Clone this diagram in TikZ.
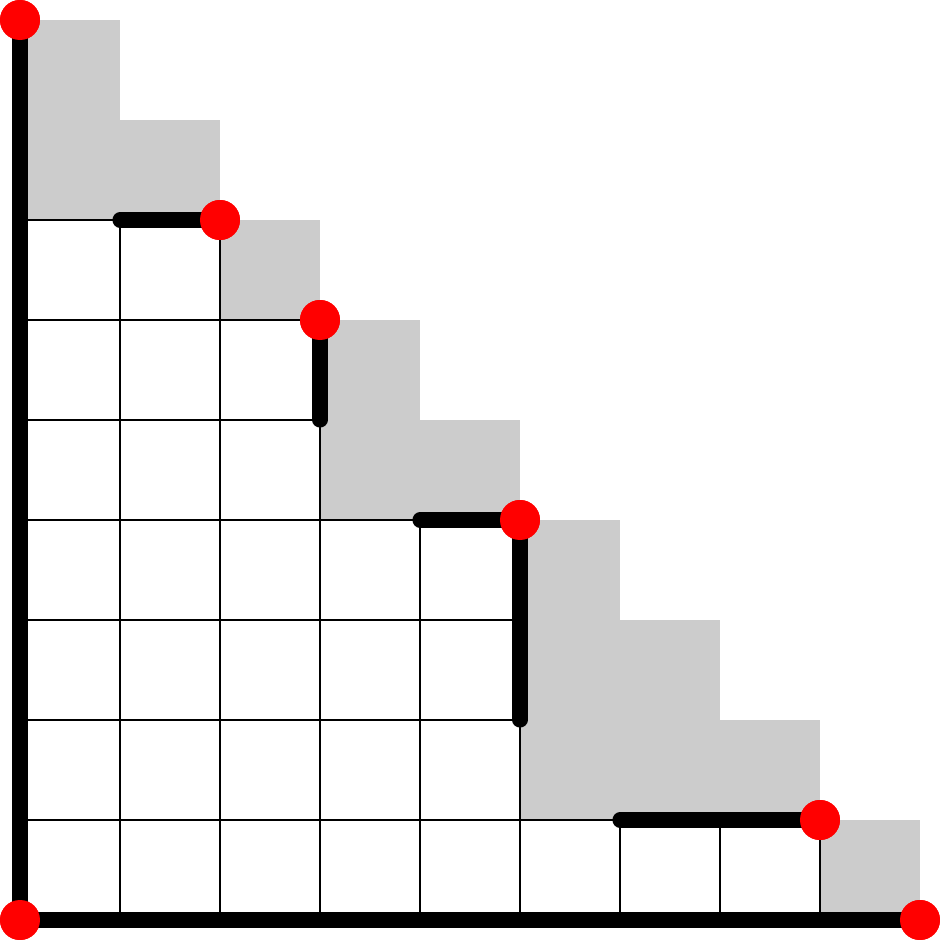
\documentclass[tikz,border=0pt]{standalone}
\definecolor{cellgray}{RGB}{204,204,204}
\begin{document}
\begin{tikzpicture}[x=1cm,y=1cm,
  cell/.style={fill=cellgray,draw=none},
  gridline/.style={draw=black,line width=0.43pt},
  thickline/.style={line width=4.3pt,line cap=round,black},
  dot/.style={circle,fill=red,draw=none,inner sep=0pt,minimum size=0.4cm}]
\useasboundingbox (-0.2,-0.2) rectangle (9.2,9.2);
% gray staircase cells
\foreach \c/\a/\b in {0/7/9,1/7/8,2/6/7,3/4/6,4/4/5,5/1/4,6/1/3,7/1/2,8/0/1}
  \fill[cellgray] (\c,\a) rectangle (\c+1,\b);
% white grid cells
\foreach \c/\h in {0/7,1/7,2/6,3/4,4/4,5/1,6/1,7/1}
  \foreach \r in {1,...,\h}
    \draw[gridline] (\c,\r-1) rectangle (\c+1,\r);
% named points
\coordinate (p1) at (1,7);
\coordinate (q1) at (3,5);
\coordinate (p4) at (4,4);
\coordinate (q5) at (5,2);
\coordinate (p6) at (6,1);
% thick black segments
\node[dot] (top) at (0,9) {};
\node[dot] (a) at (2,7) {};
\node[dot] (b) at (3,6) {};
\node[dot] (c) at (5,4) {};
\node[dot] (d) at (8,1) {};
\node[dot] (o) at (0,0) {};
\node[dot] (e) at (9,0) {};
\begin{scope}[on background layer/.style={}]
\end{scope}
\draw[thickline] (top.center) -- (o.center) -- (e.center);
\draw[thickline] (p1) -- (a.center);
\draw[thickline] (b.center) -- (q1);
\draw[thickline] (p4) -- (c.center) -- (q5);
\draw[thickline] (p6) -- (d.center);
% redraw dots on top
\foreach \n in {top,a,b,c,d,o,e}
  \fill[red] (\n.center) circle (0.2);
\end{tikzpicture}
\end{document}
